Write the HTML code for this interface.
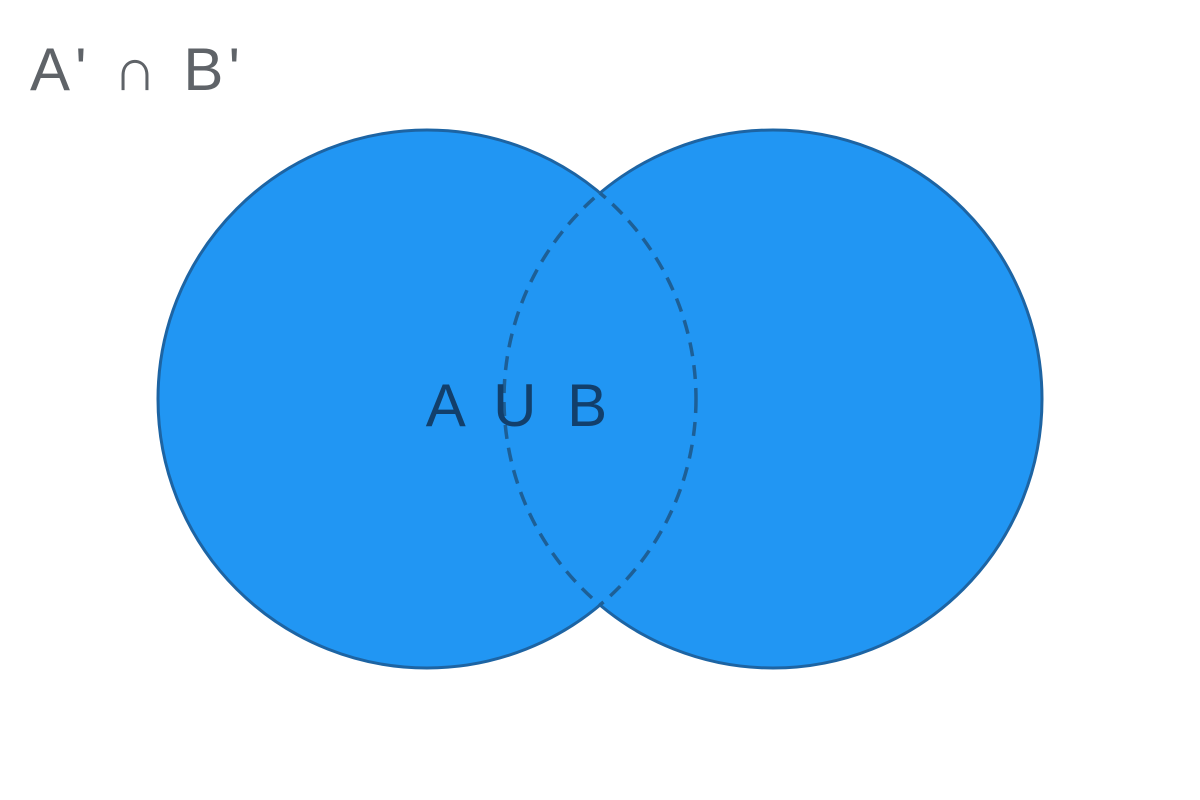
<!DOCTYPE html>
<html>
<head>
<meta charset="utf-8">
<style>
html,body{margin:0;padding:0;background:#fff;}
svg{display:block;}
</style>
</head>
<body>
<svg width="1200" height="800" viewBox="0 0 1200 800">
  <defs>
    <clipPath id="clipA"><circle cx="427" cy="399" r="269"/></clipPath>
    <clipPath id="clipB"><circle cx="773" cy="399" r="269"/></clipPath>
    <mask id="outA"><rect width="1200" height="800" fill="#fff"/><circle cx="427" cy="399" r="269" fill="#000"/></mask>
    <mask id="outB"><rect width="1200" height="800" fill="#fff"/><circle cx="773" cy="399" r="269" fill="#000"/></mask>
  </defs>
  <text x="30" y="90" textLength="210" lengthAdjust="spacing" font-family="Liberation Sans, DejaVu Sans, sans-serif" font-size="60" fill="#5f6368">A' ∩ B'</text>
  <circle cx="427" cy="399" r="269" fill="#2196f3"/>
  <circle cx="773" cy="399" r="269" fill="#2196f3"/>
  <circle cx="427" cy="399" r="269" fill="none" stroke="#1d64a3" stroke-width="3" mask="url(#outB)"/>
  <circle cx="773" cy="399" r="269" fill="none" stroke="#1d64a3" stroke-width="3" mask="url(#outA)"/>
  <circle cx="773" cy="399" r="269" fill="none" stroke="#1d5f96" stroke-width="3.5" stroke-dasharray="14,9" clip-path="url(#clipA)"/>
  <circle cx="427" cy="399" r="269" fill="none" stroke="#1d5f96" stroke-width="3.5" stroke-dasharray="14,9" clip-path="url(#clipB)"/>
  <text x="520" y="426" text-anchor="middle" font-family="Liberation Sans, DejaVu Sans, sans-serif" font-size="60" fill="#123f6b" letter-spacing="7">A U B</text>
</svg>
</body>
</html>
